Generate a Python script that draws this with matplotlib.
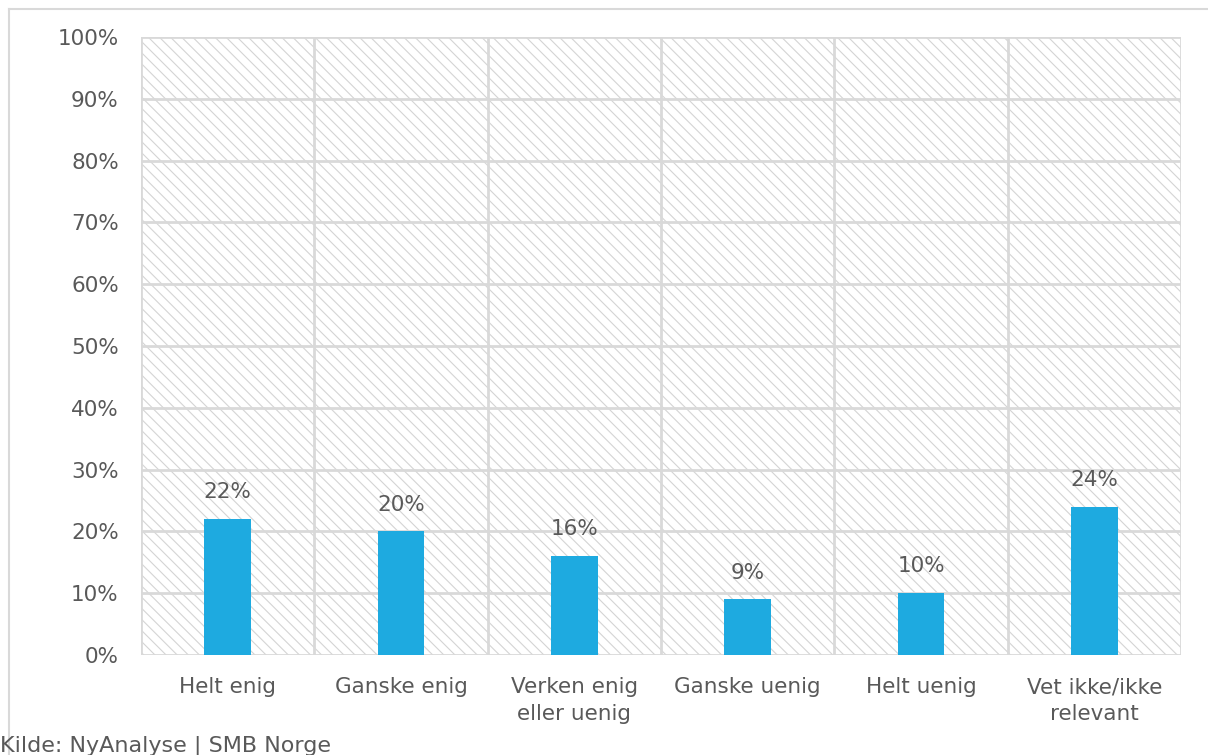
import numpy as np
import matplotlib
matplotlib.use("Agg")
import matplotlib.pyplot as plt
from matplotlib.patches import Rectangle
from matplotlib.lines import Line2D

categories = ["Helt enig", "Ganske enig", "Verken enig\neller uenig",
              "Ganske uenig", "Helt uenig", "Vet ikke/ikke\nrelevant"]
values = [22, 20, 16, 9, 10, 24]
y_ticks = [0, 10, 20, 30, 40, 50, 60, 70, 80, 90, 100]

TEXT = "#595959"
GRID = "#d9d9d9"
BAR = "#1eaae0"
HATCH = "#d4d4d4"

plt.rcParams.update({
    "font.family": ["DejaVu Sans"],
    "hatch.linewidth": 0.8,
})

fig = plt.figure(figsize=(12.08, 7.55), dpi=100)
ax = fig.add_axes([0.1167, 0.1325, 0.861, 0.8185])

x = np.arange(len(categories))
ax.set_xlim(-0.5, len(categories) - 0.5)
ax.set_ylim(0, 100)

# hatched plot background
ax.add_patch(Rectangle((0, 0), 1, 1, transform=ax.transAxes, facecolor="white",
                       edgecolor=HATCH, linewidth=0, hatch="\\\\\\", zorder=0))

# grid lines
for t in y_ticks:
    ax.axhline(t, color=GRID, linewidth=2, zorder=1)
for b in np.arange(-0.5, len(categories), 1.0):
    ax.axvline(b, color=GRID, linewidth=2, zorder=1)

ax.bar(x, values, width=0.27, color=BAR, zorder=3)
for xi, v in zip(x, values):
    ax.annotate(f"{v}%", (xi, v), textcoords="offset points", xytext=(0, 12),
                ha="center", va="bottom", fontsize=15.5, color=TEXT, zorder=4)

ax.set_xticks(x)
ax.set_xticklabels(categories, fontsize=15.5, color=TEXT, linespacing=1.45)
ax.set_yticks(y_ticks)
ax.set_yticklabels([f"{t}%" for t in y_ticks], fontsize=15.5, color=TEXT)
ax.tick_params(length=0)
ax.tick_params(axis="x", pad=16)
ax.tick_params(axis="y", pad=16)
for s in ax.spines.values():
    s.set_visible(False)

# outer frame of the chart
fig.add_artist(Line2D([9 / 1208, 9 / 1208], [0, 1 - 9 / 755], color=GRID, linewidth=1.5))
fig.add_artist(Line2D([9 / 1208, 1], [1 - 9 / 755, 1 - 9 / 755], color=GRID, linewidth=1.5))

fig.text(0.0, 0.005, "Kilde: NyAnalyse | SMB Norge", fontsize=16, color=TEXT,
         ha="left", va="baseline")

fig.savefig("out.png", dpi=100)
